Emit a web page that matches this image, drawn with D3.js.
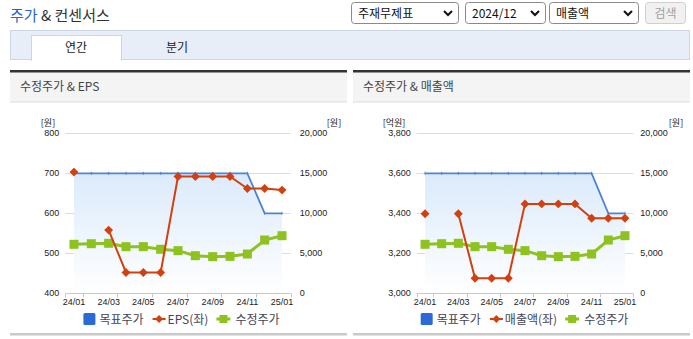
<!DOCTYPE html>
<html>
<head>
<meta charset="utf-8">
<script src="https://cdn.jsdelivr.net/npm/d3@7"></script>
<style>
  html, body { margin: 0; padding: 0; background: #fff; }
  svg { display: block; }
  text { font-family: "Noto Sans CJK KR", "Noto Sans", sans-serif; }
  .num { font-family: "Liberation Sans", Arial, sans-serif; }
</style>
</head>
<body>
<svg id="chart" width="693" height="339"></svg>
<script>
// ---- data ----
const months = ["24/01","24/02","24/03","24/04","24/05","24/06","24/07","24/08","24/09","24/10","24/11","24/12","25/01"];
const monthLabels = ["24/01","24/03","24/05","24/07","24/09","24/11","25/01"];
const targetPrice = [15000,15000,15000,15000,15000,15000,15000,15000,15000,15000,15000,10000,10000];
const adjPrice = [6125,6200,6250,5830,5830,5500,5330,4700,4580,4620,4910,6660,7200];
const eps = [703,null,558,452,452,452,692,692,692,692,662,662,658];
const sales = [3398,null,3398,3075,3075,3075,3447,3447,3447,3447,3375,3375,3375];
const epsTicks = [400,500,600,700,800];
const salesTicks = [3000,3200,3400,3600,3800];
const priceTicks = [0,5000,10000,15000,20000];
const selectOptions = ["주재무제표","2024/12","매출액"];
const tabs = ["연간","분기"];

const svg = d3.select("#chart");
const fmt = d3.format(",");
const BLUE = "#4f83d6", RED = "#d2400f", GREEN = "#8dc21f";

// gradient for the target price area
const defs = svg.append("defs");
const grad = defs.append("linearGradient").attr("id","areaGrad")
  .attr("gradientUnits","userSpaceOnUse").attr("x1",0).attr("x2",0).attr("y1",173).attr("y2",293);
grad.append("stop").attr("offset","0%").attr("stop-color","#dbeafb");
grad.append("stop").attr("offset","100%").attr("stop-color","#ffffff");

// ---- page header ----
const title = svg.append("text").attr("x",10).attr("y",20.5).attr("font-size",15).attr("fill","#333");
title.append("tspan").attr("fill","#2a64c5").text("주가");
title.append("tspan").text(" & 컨센서스");

const selBoxes = [[351,458],[465,545],[549,638]];
selBoxes.forEach(([x0,x1],i) => {
  const g = svg.append("g");
  g.append("rect").attr("x",x0+0.5).attr("y",2.5).attr("width",x1-x0).attr("height",21)
    .attr("rx",3).attr("fill","#fff").attr("stroke","#8a8a8a");
  g.append("text").attr("x",x0+7).attr("y",18).attr("font-size",12).attr("fill","#111")
    .text(selectOptions[i]);
  const cx = x1-10;
  g.append("path").attr("d",`M${cx-4},11 L${cx},15 L${cx+4},11`)
    .attr("fill","none").attr("stroke","#111").attr("stroke-width",2);
});
svg.append("rect").attr("x",645.5).attr("y",2.5).attr("width",40).attr("height",21).attr("rx",3)
  .attr("fill","#f1f1f1").attr("stroke","#cfcfcf");
svg.append("text").attr("x",665.5).attr("y",18).attr("font-size",12).attr("text-anchor","middle")
  .attr("fill","#a0a0a0").text("검색");

// ---- tab bar ----
svg.append("rect").attr("x",10.5).attr("y",30.5).attr("width",679).attr("height",29)
  .attr("fill","#e8eef8").attr("stroke","#cdd6e4");
svg.append("rect").attr("x",31.5).attr("y",35.5).attr("width",90).attr("height",25)
  .attr("fill","#fff").attr("stroke","#cdd6e4");
svg.append("rect").attr("x",32).attr("y",58).attr("width",89).attr("height",3).attr("fill","#fff");
svg.append("text").attr("x",76).attr("y",52).attr("font-size",12).attr("text-anchor","middle").attr("fill","#222").text(tabs[0]);
svg.append("text").attr("x",177).attr("y",52).attr("font-size",12).attr("text-anchor","middle").attr("fill","#222").text(tabs[1]);

// ---- one chart panel ----
function drawPanel(cfg) {
  const g = svg.append("g");
  const px = cfg.panelX, pw = 337;
  // header strip
  g.append("rect").attr("x",px).attr("y",70).attr("width",pw).attr("height",32).attr("fill","#f4f4f4");
  g.append("rect").attr("x",px).attr("y",70).attr("width",pw).attr("height",2.5).attr("fill","#333");
  g.append("rect").attr("x",px).attr("y",101.5).attr("width",pw).attr("height",1).attr("fill","#dcdcdc");
  g.append("text").attr("x",px+10).attr("y",91).attr("font-size",12).attr("fill","#444").text(cfg.title);
  // bottom rule
  g.append("rect").attr("x",px).attr("y",333).attr("width",pw).attr("height",2.5).attr("fill","#cacaca");

  const x = d3.scaleBand().domain(months).range(cfg.xRange).paddingInner(0).paddingOuter(0);
  const cx = m => x(m) + x.bandwidth()/2;
  const yL = d3.scaleLinear().domain(cfg.leftDomain).range([293.3,133.3]);
  const yR = d3.scaleLinear().domain([0,20000]).range([293.3,133.3]);
  const [xa, xb] = cfg.xRange;

  // grid
  g.append("g").selectAll("line").data(cfg.leftTicks.slice(1)).join("line")
    .attr("x1",xa).attr("x2",xb).attr("y1",d=>Math.round(yL(d))+0.5).attr("y2",d=>Math.round(yL(d))+0.5)
    .attr("stroke","#dcdcdc");

  // target price area + line
  const area = d3.area().x((d,i)=>cx(months[i])).y0(yR(0)).y1(d=>yR(d));
  g.append("path").datum(targetPrice).attr("d",area).attr("fill","url(#areaGrad)");
  const lineT = d3.line().x((d,i)=>cx(months[i])).y(d=>yR(d));
  g.append("path").datum(targetPrice).attr("d",lineT).attr("fill","none").attr("stroke",BLUE).attr("stroke-width",1.8);
  g.append("g").selectAll("line").data(targetPrice).join("line")
    .attr("x1",(d,i)=>cx(months[i])).attr("x2",(d,i)=>cx(months[i]))
    .attr("y1",d=>yR(d)-1.5).attr("y2",d=>yR(d)+1.5).attr("stroke",BLUE).attr("stroke-width",1);

  // x axis
  const axisY = 293.5;
  g.append("line").attr("x1",xa).attr("x2",xb).attr("y1",axisY).attr("y2",axisY).attr("stroke","#c3cad6");
  const tickIdx = [0,1,3,5,7,9,11,13];
  g.append("g").selectAll("line").data(tickIdx).join("line")
    .attr("x1",i=>Math.round(xa + i*x.step())+0.5).attr("x2",i=>Math.round(xa + i*x.step())+0.5)
    .attr("y1",axisY).attr("y2",axisY+4).attr("stroke","#c3cad6");
  g.append("g").selectAll("text").data(monthLabels).join("text").attr("class","num")
    .attr("x",d=>cx(d)).attr("y",305).attr("font-size",9).attr("text-anchor","middle").attr("fill","#222").text(d=>d);

  // left axis labels
  g.append("g").selectAll("text").data(cfg.leftTicks).join("text").attr("class","num")
    .attr("x",xa-6).attr("y",d=>yL(d)+3).attr("font-size",9).attr("text-anchor","end").attr("fill","#222")
    .text(d=>fmt(d));
  g.append("text").attr("x",cfg.leftUnitX).attr("y",126).attr("font-size",9).attr("text-anchor","middle")
    .attr("fill","#222").text(cfg.leftUnit);
  // right axis labels
  g.append("g").selectAll("text").data(priceTicks).join("text").attr("class","num")
    .attr("x",xb+cfg.rightGap).attr("y",d=>yR(d)+3).attr("font-size",9).attr("fill","#222")
    .text(d=>fmt(d));
  g.append("text").attr("x",cfg.rightUnitX).attr("y",126).attr("font-size",9).attr("text-anchor","middle")
    .attr("fill","#222").text("[원]");

  // adjusted price (right axis)
  const lineP = d3.line().x((d,i)=>cx(months[i])).y(d=>yR(d));
  g.append("path").datum(adjPrice).attr("d",lineP).attr("fill","none").attr("stroke",GREEN).attr("stroke-width",3);
  g.append("g").selectAll("rect").data(adjPrice).join("rect")
    .attr("x",(d,i)=>cx(months[i])-4.5).attr("y",d=>yR(d)-4.5).attr("width",9).attr("height",9).attr("fill",GREEN);

  // left-axis series
  const vals = cfg.values;
  const lineV = d3.line().defined(d=>d!=null).x((d,i)=>cx(months[i])).y(d=>yL(d));
  g.append("path").datum(vals).attr("d",lineV).attr("fill","none").attr("stroke",RED).attr("stroke-width",2);
  const diamond = d3.symbol().type(d3.symbolDiamond2).size(50);
  g.append("g").selectAll("path").data(vals.map((v,i)=>({v,i})).filter(d=>d.v!=null)).join("path")
    .attr("d",diamond).attr("transform",d=>`translate(${cx(months[d.i])},${yL(d.v)})`).attr("fill",RED);

  // legend
  const lg = g.append("g");
  const ly = 319;
  let lx = 0;
  lg.append("rect").attr("x",lx).attr("y",ly-6).attr("width",12).attr("height",12).attr("rx",1.5).attr("fill","#2a6ad8");
  lx += 16;
  let t = lg.append("text").attr("x",lx).attr("y",ly+4.5).attr("font-size",12).attr("fill","#445").text("목표주가");
  lx += t.node().getComputedTextLength() + 9;
  lg.append("line").attr("x1",lx).attr("x2",lx+13).attr("y1",ly).attr("y2",ly).attr("stroke",RED).attr("stroke-width",2);
  lg.append("path").attr("d",d3.symbol().type(d3.symbolDiamond2).size(40)).attr("transform",`translate(${lx+6.5},${ly})`).attr("fill",RED);
  lx += 15;
  t = lg.append("text").attr("x",lx).attr("y",ly+4.5).attr("font-size",12).attr("fill","#445").text(cfg.seriesName);
  lx += t.node().getComputedTextLength() + 8;
  lg.append("line").attr("x1",lx).attr("x2",lx+14).attr("y1",ly).attr("y2",ly).attr("stroke",GREEN).attr("stroke-width",3);
  lg.append("rect").attr("x",lx+3).attr("y",ly-4).attr("width",8).attr("height",8).attr("fill",GREEN);
  lx += 19;
  t = lg.append("text").attr("x",lx).attr("y",ly+4.5).attr("font-size",12).attr("fill","#445").text("수정주가");
  lx += t.node().getComputedTextLength();
  lg.attr("transform",`translate(${px + pw/2 + 3 - lx/2},0)`);
}

drawPanel({
  panelX: 10, title: "수정주가 & EPS", xRange: [65.3,290.7],
  leftDomain: [400,800], leftTicks: epsTicks, values: eps, seriesName: "EPS(좌)",
  leftUnit: "[원]", leftUnitX: 48, rightGap: 9, rightUnitX: 334
});
drawPanel({
  panelX: 353, title: "수정주가 & 매출액", xRange: [416.7,633.3],
  leftDomain: [3000,3800], leftTicks: salesTicks, values: sales, seriesName: "매출액(좌)",
  leftUnit: "[억원]", leftUnitX: 394, rightGap: 7, rightUnitX: 676
});
</script>
</body>
</html>
